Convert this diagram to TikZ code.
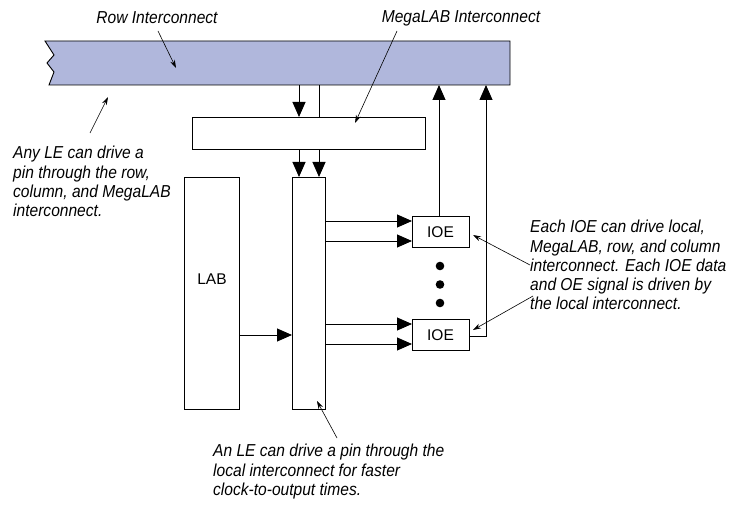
\documentclass[tikz,border=0pt]{standalone}
\usepackage{fontspec}
\setmainfont{Liberation Sans}[FakeStretch=0.9]
\newfontfamily\boxfont{Liberation Sans}
\usetikzlibrary{arrows.meta}
\begin{document}
\begin{tikzpicture}[x=1pt,y=-1pt,
  box/.style={draw,line width=0.9pt,fill=white,inner sep=0pt,anchor=north west},
  wire/.style={line width=0.9pt},
  bigarrow/.style={line width=0.9pt,-{Triangle[length=15pt,width=13pt]}},
  pointer/.style={line width=0.6pt,-{Stealth[length=8pt,width=5pt]}},
  note/.style={font=\itshape\fontsize{17.3}{19.3}\selectfont,align=left,inner sep=0pt,anchor=north west},
  plain/.style={font=\boxfont\fontsize{15.5}{17}\selectfont,inner sep=0pt}]
\useasboundingbox (0,0) rectangle (738,505);
% row interconnect bar
\fill[fill={rgb,255:red,176;green,183;blue,220}] (45,41) -- (510,41) -- (510,85) -- (49,85) -- (54,72) -- (47,63) -- (54,55) -- cycle;
\draw[wire] (45,41) -- (510,41) -- (510,85) -- (49,85) -- (54,72) -- (47,63) -- (54,55) -- cycle;
\coordinate (rowtip) at (176,68);
\coordinate (barA) at (299,85);
\coordinate (barB) at (319,85);
\coordinate (barC) at (439,85);
\coordinate (barD) at (486,85);
% boxes
\node[box,minimum width=233pt,minimum height=32pt] (mlab) at (192,117) {};
\node[box,minimum width=33pt,minimum height=232pt] (col) at (292,177) {};
\node[box,minimum width=55pt,minimum height=232pt] (lab) at (184,177) {};
\node[plain] (labtxt) at (212,279) {LAB};
\node[box,minimum width=57pt,minimum height=31pt] (ioe1) at (412,216) {};
\node[plain] (ioe1t) at (440.5,232) {IOE};
\node[box,minimum width=57pt,minimum height=31pt] (ioe2) at (412,319) {};
\node[plain] (ioe2t) at (440.5,335) {IOE};
% dots
\fill (440,266) circle (4.3pt);
\fill (440,284.5) circle (4.3pt);
\fill (440,303) circle (4.3pt);
% connectors
\draw[bigarrow] (barA) -- (barA |- mlab.north);
\draw[wire] (barB) -- (barB |- mlab.north);
\draw[bigarrow] (mlab.south -| barA) -- (col.north -| barA);
\draw[bigarrow] (mlab.south -| barB) -- (col.north -| barB);
\draw[bigarrow] (ioe1.north -| barC) -- (barC);
\draw[bigarrow] (ioe2.east |- 0,336) -- (486,336) -- (barD);
\draw[bigarrow] (col.east |- 0,221) -- (ioe1.west |- 0,221);
\draw[bigarrow] (col.east |- 0,241) -- (ioe1.west |- 0,241);
\draw[bigarrow] (col.east |- 0,324) -- (ioe2.west |- 0,324);
\draw[bigarrow] (col.east |- 0,344) -- (ioe2.west |- 0,344);
\draw[bigarrow] (lab.east |- 0,335) -- (col.west |- 0,335);
% labels
\node[note,anchor=center] (rowlbl) at (157,18) {Row Interconnect};
\node[note,anchor=center] (mlablbl) at (461,18) {MegaLAB Interconnect};
\draw[pointer] (158,31) -- (rowtip);
\draw[pointer] (397,31) -- (355,123);
\node[note] (anyle) at (13,146) {Any LE can drive a\\pin through the row,\\column, and MegaLAB\\interconnect.};
\draw[pointer] (90,133) -- (108,97);
\node[note] (ioelbl) at (530,220) {Each IOE can drive local,\\MegaLAB, row, and column\\interconnect. Each IOE data\\and OE signal is driven by\\the local interconnect.};
\draw[pointer] (530,265) -- (473,235);
\draw[pointer] (533,296) -- (473,330);
\node[note] (lelbl) at (213,444) {An LE can drive a pin through the\\local interconnect for faster\\clock-to-output times.};
\draw[pointer] (337,438) -- (317,401);
\end{tikzpicture}
\end{document}
